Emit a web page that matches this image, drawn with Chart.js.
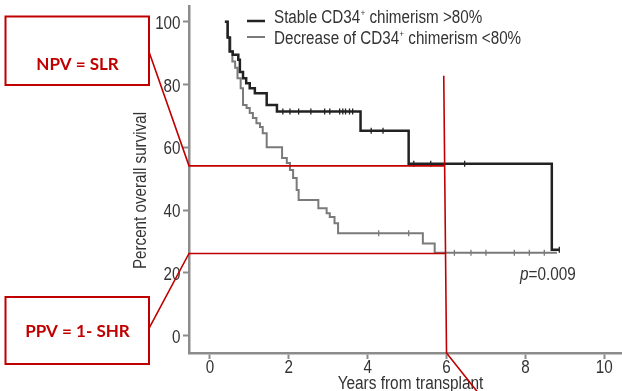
<!DOCTYPE html>
<html>
<head>
<meta charset="utf-8">
<script src="https://cdn.jsdelivr.net/npm/chart.js@4/dist/chart.umd.min.js"></script>
<style>
html,body{margin:0;padding:0;background:#fff;}
canvas{display:block;}
</style>
</head>
<body>
<canvas id="c" width="622" height="391"></canvas>
<script>
// ---- data ----
const stableTimes = [0.38, 0.45, 0.50, 0.58, 0.72, 0.76, 0.84, 0.92, 1.01, 1.14, 1.44, 1.70, 3.82, 5.04, 8.67, 8.86];
const stableSurv  = [100, 95, 90.5, 89.5, 87.9, 84, 82, 80.4, 78.8, 77.2, 73.5, 71.4, 65.3, 54.8, 27.4, 27.4];

const decreaseTimes = [0.38, 0.45, 0.52, 0.57, 0.64, 0.70, 0.78, 0.84, 0.93, 1.01, 1.09, 1.18, 1.27, 1.34, 1.44, 1.83, 1.95, 2.03, 2.11, 2.20, 2.25, 2.75, 2.96, 3.04, 3.16, 3.25, 5.40, 5.70, 8.80];
const decreaseSurv  = [100, 95, 90.5, 87.3, 85.3, 82, 78.8, 73.5, 72.5, 70.9, 69.3, 67.7, 66.5, 64.5, 60, 56.6, 55, 52.8, 50.2, 46.4, 43.2, 40.6, 39, 37.8, 35.8, 32.6, 29.4, 26.4, 26.4];

const stableCensorTimes = [1.85, 2.03, 2.25, 2.56, 2.91, 3.04, 3.29, 3.37, 3.44, 3.54, 3.62, 4.09, 4.39, 5.17, 5.60, 6.46, 8.86];
const stableCensorSurv  = [71.4, 71.4, 71.4, 71.4, 71.4, 71.4, 71.4, 71.4, 71.4, 71.4, 71.4, 65.3, 65.3, 54.8, 54.8, 54.8, 27.4];

const decreaseCensorTimes = [4.28, 5.04, 6.20, 6.62, 7.00, 7.72, 8.10, 8.48];
const decreaseCensorSurv  = [32.6, 32.6, 26.4, 26.4, 26.4, 26.4, 26.4, 26.4];

const xTickValues = [0, 2, 4, 6, 8, 10];
const yTickValues = [0, 20, 40, 60, 80, 100];

const seriesLabels = ['Stable CD34', 'Decrease of CD34'];
const legendSuffix = [' chimerism >80%', ' chimerism <80%'];
const xTitle = 'Years from transplant';
const yTitle = 'Percent overall survival';
const pText = '=0.009';
const npvText = 'NPV = SLR';
const ppvText = 'PPV = 1- SHR';

// annotation levels (data units)
const npvLevel = 54.1;
const ppvLevel = 26.2;

// ---- styles ----
const SANS = '"Liberation Sans", Arial, sans-serif';
const TXT = '#333333';
const AXIS = '#8c8c8c';
const BLACK = '#222222';
const GRAY = '#7a7a7a';
const RED = '#c00000';

const pts = (xs, ys) => xs.map((v, i) => ({x: v, y: ys[i]}));

// draw condensed text; returns drawn width
function ctext(ctx, str, x, y, size, sx, align, italic, rot) {
  ctx.save();
  ctx.translate(x, y);
  if (rot) ctx.rotate(rot);
  ctx.scale(sx, 1);
  ctx.font = (italic ? 'italic ' : '') + size + 'px ' + SANS;
  ctx.textAlign = align || 'left';
  ctx.textBaseline = 'alphabetic';
  ctx.fillText(str, 0, 0);
  const w = ctx.measureText(str).width * sx;
  ctx.restore();
  return w;
}

const overlay = {
  id: 'overlay',
  afterDraw(chart) {
    const {ctx} = chart;
    const xs = chart.scales.x, ys = chart.scales.y;
    const ca = chart.chartArea;
    ctx.save();
    ctx.fillStyle = TXT;

    // tick labels
    yTickValues.forEach(v => ctext(ctx, String(v), 180.5, ys.getPixelForValue(v) + 7, 19, 0.8, 'right'));
    xTickValues.forEach(v => ctext(ctx, String(v), xs.getPixelForValue(v), 372.5, 19, 0.8, 'center'));

    // legend
    ctx.lineCap = 'butt';
    ctx.strokeStyle = BLACK; ctx.lineWidth = 2.5;
    ctx.beginPath(); ctx.moveTo(247, 21); ctx.lineTo(265, 21); ctx.stroke();
    ctx.strokeStyle = GRAY; ctx.lineWidth = 2;
    ctx.beginPath(); ctx.moveTo(247, 37); ctx.lineTo(265, 37); ctx.stroke();

    ctx.fillStyle = TXT;
    const legY = [23, 43.5];
    for (let i = 0; i < 2; i++) {
      let x0 = 274;
      x0 += ctext(ctx, seriesLabels[i], x0, legY[i], 18, 0.845);
      x0 += ctext(ctx, '+', x0 + 0.5, legY[i] - 7, 9, 0.845) + 0.5;
      ctext(ctx, legendSuffix[i], x0, legY[i], 18, 0.845);
    }

    // p value
    const pw = ctext(ctx, 'p', 520, 280, 18, 0.85, 'left', true);
    ctext(ctx, pText, 520 + pw, 280, 18, 0.85);

    // axis titles
    ctext(ctx, xTitle, 410.5, 389, 18, 0.855, 'center');
    ctext(ctx, yTitle, 146, 190.5, 18, 0.845, 'center', false, -Math.PI / 2);

    // red annotations
    ctx.strokeStyle = RED;
    ctx.lineWidth = 1.6;
    const left = ca.left;
    const yN = ys.getPixelForValue(npvLevel);
    const yP = ys.getPixelForValue(ppvLevel);
    const vTopX = xs.getPixelForValue(5.93), vTopY = ys.getPixelForValue(82.8);
    const vBotX = xs.getPixelForValue(6.0), vBotY = ca.bottom;
    const vxAt = yy => vTopX + (vBotX - vTopX) * (yy - vTopY) / (vBotY - vTopY);

    ctx.beginPath();
    ctx.moveTo(149, 51.7); ctx.lineTo(left, yN); ctx.lineTo(vxAt(yN), yN);
    ctx.stroke();
    ctx.beginPath();
    ctx.moveTo(149, 328.3); ctx.lineTo(left, yP); ctx.lineTo(vxAt(yP), yP);
    ctx.stroke();
    ctx.beginPath();
    ctx.moveTo(vTopX, vTopY); ctx.lineTo(vBotX, vBotY); ctx.lineTo(vBotX + 31, 392);
    ctx.stroke();

    ctx.lineWidth = 2;
    ctx.strokeRect(5.5, 16.5, 143.5, 68.5);
    ctx.strokeRect(5.5, 297, 143.5, 67);

    ctx.fillStyle = RED;
    ctx.font = 'bold 17px Lato, "Open Sans", sans-serif';
    ctx.textAlign = 'center'; ctx.textBaseline = 'middle';
    ctx.fillText(npvText, 77.5, 64.5);
    ctx.fillText(ppvText, 77.5, 332);

    ctx.restore();
  }
};

new Chart(document.getElementById('c'), {
  type: 'line',
  data: {
    datasets: [
      {data: pts(stableTimes, stableSurv), borderColor: BLACK, borderWidth: 2.5, stepped: true, pointRadius: 0, fill: false},
      {data: pts(decreaseTimes, decreaseSurv), borderColor: GRAY, borderWidth: 2, stepped: true, pointRadius: 0, fill: false},
      {type: 'scatter', data: pts(stableCensorTimes, stableCensorSurv), showLine: false, pointStyle: 'line', rotation: 90, radius: 3, borderColor: BLACK, borderWidth: 1.3},
      {type: 'scatter', data: pts(decreaseCensorTimes, decreaseCensorSurv), showLine: false, pointStyle: 'line', rotation: 90, radius: 3, borderColor: GRAY, borderWidth: 1.3}
    ]
  },
  options: {
    responsive: false,
    animation: false,
    events: [],
    layout: {autoPadding: false, padding: {top: 6, left: 0, right: 0, bottom: 0}},
    plugins: {legend: {display: false}, tooltip: {enabled: false}, title: {display: false}},
    scales: {
      x: {
        type: 'linear', min: -0.53, max: 10.45,
        afterBuildTicks: s => { s.ticks = xTickValues.map(v => ({value: v})); },
        afterFit: s => { s.height = 38; },
        ticks: {display: false},
        grid: {drawOnChartArea: false, drawTicks: true, tickLength: 6, tickColor: AXIS, tickWidth: 2},
        border: {display: true, color: AXIS, width: 2.5}
      },
      y: {
        type: 'linear', min: -5.5, max: 105,
        afterBuildTicks: s => { s.ticks = yTickValues.map(v => ({value: v})); },
        afterFit: s => { s.width = 189; },
        ticks: {display: false},
        grid: {drawOnChartArea: false, drawTicks: true, tickLength: 6, tickColor: AXIS, tickWidth: 2},
        border: {display: true, color: AXIS, width: 2.5}
      }
    }
  },
  plugins: [overlay]
});
</script>
</body>
</html>
